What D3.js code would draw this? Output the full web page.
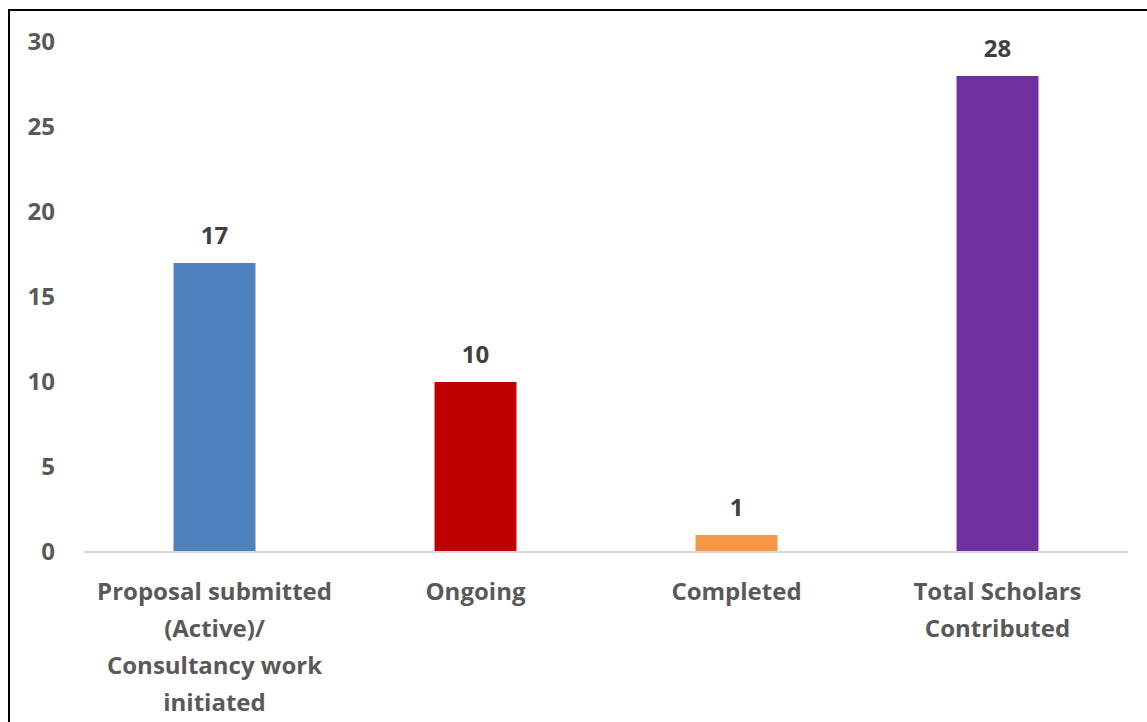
<!DOCTYPE html>
<html>
<head>
	<script src="https://cdn.jsdelivr.net/npm/d3@7"></script>
</head>
<style type="text/css">
	body { margin: 0; background: #fff; }
	svg text { font-family: "Open Sans", sans-serif; font-weight: bold; }
</style>
<body>
<div id=chart></div>
<script>

// chart data
var categories = [
	["Proposal submitted", "(Active)/", "Consultancy work", "initiated"],
	["Ongoing"],
	["Completed"],
	["Total Scholars", "Contributed"]
];
var values = [17, 10, 1, 28];
var colors = ["#4f81bd", "#c00000", "#f79646", "#7030a0"];
var yTicks = [0, 5, 10, 15, 20, 25, 30];

var W = 1147, H = 722;
var margin = {top: 42, right: 19, bottom: 170, left: 84};
var width = W - margin.left - margin.right,
	height = H - margin.top - margin.bottom;

var svg = d3.select("#chart").append("svg")
	.attr("width", W)
	.attr("height", H);

// outer border
svg.append("rect")
	.attr("x", 9).attr("y", 10)
	.attr("width", W).attr("height", H)
	.attr("fill", "none")
	.attr("stroke", "#000")
	.attr("stroke-width", 2);

var g = svg.append("g")
	.attr("transform", "translate(" + margin.left + "," + margin.top + ")");

var x = d3.scaleBand()
	.domain(d3.range(categories.length))
	.range([0, width])
	.paddingInner(0.686)
	.paddingOuter(0.343);

var y = d3.scaleLinear()
	.domain([0, 30])
	.range([height, 0]);

// y tick labels
g.selectAll("text.ytick")
	.data(yTicks)
	.enter().append("text")
	.attr("class", "ytick")
	.attr("x", -29)
	.attr("y", function(d) { return y(d); })
	.attr("dy", "0.35em")
	.attr("text-anchor", "end")
	.attr("fill", "#595959")
	.attr("font-size", 24)
	.text(function(d) { return d; });

// bars
g.selectAll("rect.bar")
	.data(values)
	.enter().append("rect")
	.attr("class", "bar")
	.attr("x", function(d, i) { return x(i); })
	.attr("y", function(d) { return y(d); })
	.attr("width", x.bandwidth())
	.attr("height", function(d) { return height - y(d); })
	.attr("fill", function(d, i) { return colors[i]; });

// baseline
g.append("line")
	.attr("x1", 0).attr("x2", width)
	.attr("y1", y(0)).attr("y2", y(0))
	.attr("stroke", "#d9d9d9")
	.attr("stroke-width", 2);

// data labels
g.selectAll("text.val")
	.data(values)
	.enter().append("text")
	.attr("class", "val")
	.attr("x", function(d, i) { return x(i) + x.bandwidth() / 2; })
	.attr("y", function(d) { return y(d) - 19; })
	.attr("text-anchor", "middle")
	.attr("fill", "#404040")
	.attr("font-size", 24)
	.text(function(d) { return d; });

// category labels
categories.forEach(function(lines, i) {
	var t = g.append("text")
		.attr("text-anchor", "middle")
		.attr("fill", "#595959")
		.attr("font-size", 24)
		.attr("x", x(i) + x.bandwidth() / 2)
		.attr("y", height + 48);
	lines.forEach(function(s, j) {
		t.append("tspan")
			.attr("x", x(i) + x.bandwidth() / 2)
			.attr("dy", j == 0 ? 0 : 37)
			.text(s);
	});
});

</script>
</body>
</html>
